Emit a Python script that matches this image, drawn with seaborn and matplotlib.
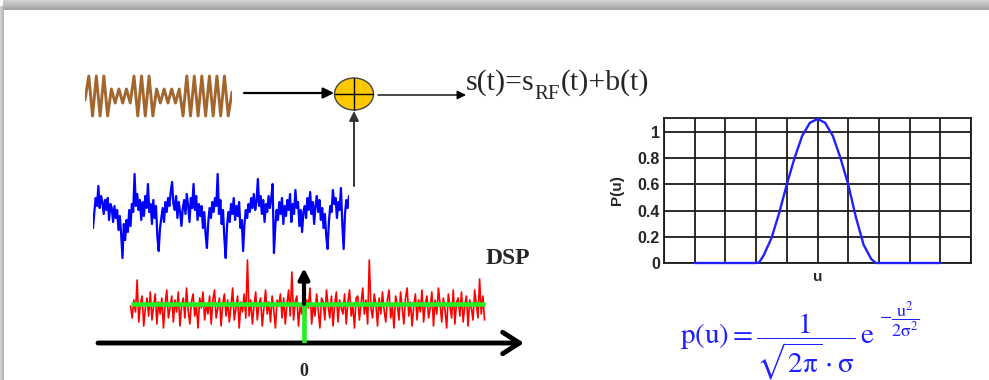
import numpy as np
import matplotlib
matplotlib.use('Agg')
import matplotlib.pyplot as plt
import seaborn as sns
from matplotlib.patches import Ellipse

# ---------------- data ----------------
# successive extremes of the modulated RF carrier (brown)
brown_extremes = [-0.2, 1, -1, 1, -1, 1, -1,
                  0.35, -0.35, 0.35, -0.35, 0.35, -0.35,
                  1, -1, 1, -1, 1, -1,
                  0.35, -0.35, 0.35, -0.35, 0.35, -0.35, 0.35,
                  -1, 1, -1, 1, -1, 1, -1, 1, -1, 1, -1, 1, -1, 0.2]

# additive noise b(t) (blue)
blue_noise = [-12, 4, 18, 10, 30, 8, 20, 14, 2, 16, 6, 18, -4, 12, 8, -6,
              10, -2, 6, -14, 0, -18, -42, -8, -24, -4, -16, 6, -10, 12, 4, 42,
              10, 22, 6, 16, -4, 14, 0, 20, 8, 32, 4, 12, -8, 16, -2, 10,
              -20, -35, -12, -2, 8, -6, 14, 4, 18, 10, 24, 34, 12, 6, 20, -2,
              14, 4, -10, 8, 16, 2, 22, 10, -6, 18, 8, 32, 6, 20, -4, 12,
              0, 10, -12, 4, -18, -32, -6, 8, -2, 14, 4, 18, 10, 42, 2, 16,
              -8, 6, -22, -42, -10, 4, -6, 12, 2, 18, -4, 10, 0, 14, -12, -4,
              -35, -8, 6, -2, 12, 4, 18, 8, 22, 6, 14, 37, 10, 20, 2, 16,
              -6, 12, 4, 20, 8, 18, 32, -37, -10, 6, -4, 14, 2, 18, -8, 10,
              0, 16, 6, 22, -6, 12, 2, 26, 8, 14, -10, 6, -16, 4, 10, -2,
              18, 6, 24, 2, 14, -8, 10, 20, 4, 16, -4, 8, -12, 2, -20, -33,
              -6, 10, 4, 26, 12, 18, -2, 14, 6, 28, -8, -33, 2, 16, 8, 20]

# estimated power spectral density of the noise (red), deviations around the floor
red_psd_dev = [4, -8, 10, -2, 30, -12, 6, 14, -16, 2, 12, -6, 18, -10, 4, 16, -14, 8,
               -4, 12, -18, 6, 20, -8, 2, 14, -12, 10, -2, 18, -16, 4, 12, -8, 22, 0,
               -14, 8, 16, -6, 4, -18, 12, 2, 18, -10, 6, -4, 14, -14, 10, 20, -8, 2,
               12, -16, 6, 16, -6, 10, -12, 4, 22, -10, 2, 14, -18, 8, -2, 16, -8, 50,
               -6, 10, -14, 4, 18, -10, 6, 12, -16, 2, 20, -4, 8, -12, 14, 0, -18, 10,
               4, 16, -8, 12, -14, 6, 20, -6, 38, -10, 8, 14, -16, 4, -4, 18, -12, 10,
               2, 22, -14, 6, -6, 16, 0, -18, 12, 8, -10, 20, 4, -8, 14, -16, 6, 18,
               -12, 10, 2, -4, 16, -14, 8, 20, -6, 4, -18, 12, 14, -10, 6, 22, -4, 10,
               -14, 50, 2, -8, 16, 6, -16, 12, -4, 18, 0, -12, 10, 20, -8, 4, -18, 14,
               6, -10, 18, 2, -14, 12, 22, -6, 8, -16, 4, 16, -10, 10, -2, 20, -12, 6,
               14, -8, 2, 18, -16, 10, -4, 22, 6, -12, 12, 0, -18, 16, 4, -8, 20, -14,
               8, 12, -6, 18, -12, 4, 14, -16, 10, 2, -10, 20, 6, -8, 31, -4, 14, -10]
psd_floor = 33
red_f_range = [-0.98, 1.02]
green_level = 39
dirac_height = 75

# probability density P(u)
gauss_u = [1, 2, 3, 3.1, 3.25, 3.5, 3.75, 4, 4.25, 4.5, 4.75, 5,
           5.25, 5.5, 5.75, 6, 6.25, 6.5, 6.75, 6.9, 8, 9]
gauss_p = [0, 0, 0, 0.005, 0.06, 0.19, 0.38, 0.6, 0.8, 0.97, 1.07, 1.1,
           1.07, 0.97, 0.8, 0.6, 0.35, 0.14, 0.03, 0, 0, 0]
p_ticks = [0, 0.2, 0.4, 0.6, 0.8, 1]
p_ticklabels = ['0', '0.2', '0.4', '0.6', '0.8', '1']
u_grid = list(range(0, 11))

# ---------------- figure ----------------
W, H = 989, 380
sns.set_theme(style='white')
plt.rcParams['mathtext.fontset'] = 'stix'
plt.rcParams['font.family'] = ['Liberation Sans', 'DejaVu Sans']

fig = plt.figure(figsize=(W / 100, H / 100), dpi=100)
fig.patch.set_facecolor('white')


def box(x0, y0, x1, y1):
    return [x0 / W, 1 - y1 / H, (x1 - x0) / W, (y1 - y0) / H]


# background / slide shadow
bg = fig.add_axes([0, 0, 1, 1])
img = np.ones((H, W))
for y in range(10):
    img[y, 3:] = 0.82 - 0.02 * y
for x in range(4):
    img[6:, x] = 0.82 - 0.04 * x
bg.imshow(img, cmap='gray', vmin=0, vmax=1, extent=(0, W, H, 0),
          aspect='auto', zorder=0, interpolation='bilinear')
bg.set_xlim(0, W)
bg.set_ylim(H, 0)
bg.axis('off')

serif = dict(fontfamily=['Liberation Serif', 'DejaVu Serif'])

# RF carrier
axb = fig.add_axes(box(85, 74, 232, 118))
sns.lineplot(x=np.arange(len(brown_extremes)), y=brown_extremes, ax=axb,
             color='#a3672e', lw=2.1, estimator=None)
axb.set_xlim(0, len(brown_extremes) - 1)
axb.set_ylim(-1.1, 1.1)
axb.axis('off')

# noise b(t)
axn = fig.add_axes(box(93, 170, 349, 260))
sns.lineplot(x=np.arange(len(blue_noise)), y=blue_noise, ax=axn,
             color='#0000ff', lw=1.6, estimator=None)
axn.set_xlim(0, len(blue_noise) - 1)
axn.set_ylim(-44, 46)
axn.axis('off')

# adder and arrows
arrow_kw = dict(arrowstyle='-|>', color='black', lw=1.6, mutation_scale=16,
                shrinkA=0, shrinkB=0)
bg.annotate('', xy=(334, 93), xytext=(244, 93), arrowprops=arrow_kw)
bg.annotate('', xy=(466, 95), xytext=(378, 95),
            arrowprops=dict(arrow_kw, lw=1.0, mutation_scale=13))
bg.annotate('', xy=(354, 111), xytext=(354, 186),
            arrowprops=dict(arrow_kw, lw=1.4, color='#333333', mutation_scale=14))
bg.add_patch(Ellipse((354, 94), 39, 32, facecolor='#ffc800',
                     edgecolor='#444444', lw=1.0, zorder=5))
bg.plot([335, 373], [94, 94], color='black', lw=1.0, zorder=6)
bg.plot([354, 354], [78, 110], color='black', lw=1.0, zorder=6)

# s(t) = s_RF(t) + b(t)
r = fig.canvas.get_renderer()
t1 = bg.text(466, 90, 's(t)=s', fontsize=21.5, va='baseline', **serif)
x = t1.get_window_extent(r).x1
t2 = bg.text(x, 99, 'RF', fontsize=15, va='baseline', **serif)
x = t2.get_window_extent(r).x1
bg.text(x, 90, '(t)+b(t)', fontsize=21.5, va='baseline', **serif)

# DSP panel
axd = fig.add_axes(box(90, 243, 530, 343))
red_f = np.linspace(red_f_range[0], red_f_range[1], len(red_psd_dev))
sns.lineplot(x=red_f, y=psd_floor + np.array(red_psd_dev), ax=axd,
             color='#ff0000', lw=1.2, estimator=None)
axd.plot(red_f_range, [green_level, green_level], color='#22ee22', lw=3.3,
         solid_capstyle='butt')
axd.plot([0, 0], [0, green_level], color='#22ee22', lw=3.3,
         solid_capstyle='butt')
axd.annotate('', xy=(0, dirac_height), xytext=(0, green_level),
             arrowprops=dict(arrowstyle='-|>', color='black', lw=3,
                             mutation_scale=16, shrinkA=0, shrinkB=0))
axd.set_xlim(-214 / 177, 226 / 177)
axd.set_ylim(0, 100)
axd.axis('off')
bg.annotate('', xy=(524, 343), xytext=(98, 343),
            arrowprops=dict(arrowstyle='->,head_length=0.55,head_width=0.35',
                            color='black', lw=3.5, mutation_scale=22,
                            shrinkA=0, shrinkB=0))
bg.text(304, 372, '0', ha='center', va='center', fontsize=13,
        fontweight='bold', **serif)
bg.text(508, 259, 'DSP', ha='center', va='center', fontsize=17,
        fontweight='bold', **serif)

# P(u) chart
axg = fig.add_axes(box(664, 118, 971, 263))
axg.set_facecolor('white')
sns.lineplot(x=gauss_u, y=gauss_p, ax=axg, color='#2020ff', lw=1.7,
             estimator=None, sort=False, zorder=5)
for ln in axg.lines:
    ln.set_clip_on(False)
axg.set_xlim(0, 10)
axg.set_ylim(0, 1.107)
axg.set_xticks(u_grid)
axg.set_xticklabels([])
axg.set_yticks(p_ticks)
axg.set_yticklabels(p_ticklabels, fontweight='bold', fontsize=11.5)
axg.grid(True, color='#1a1a1a', lw=1.3)
axg.set_axisbelow(True)
for s in axg.spines.values():
    s.set_visible(True)
    s.set_color('#1a1a1a')
    s.set_linewidth(1.3)
axg.tick_params(length=0, pad=3)
axg.set_ylabel('P(u)', fontweight='bold', fontsize=11, labelpad=10)
axg.set_xlabel('u', fontweight='bold', fontsize=11, labelpad=2)

# formula
fm = bg.text(680, 343,
             r'$\mathrm{p(u)} = \dfrac{1}{\sqrt{2\mathrm{\pi}}\cdot\mathrm{\sigma}}\,\mathrm{e}$',
             color='#2020ff', fontsize=21, va='baseline')
x = fm.get_window_extent(r).x1
bg.text(x + 4, 320, r'$-\dfrac{\mathrm{u}^2}{2\mathrm{\sigma}^2}$',
        color='#2020ff', fontsize=13, va='center')

fig.savefig('out.png', dpi=100, facecolor='white')
